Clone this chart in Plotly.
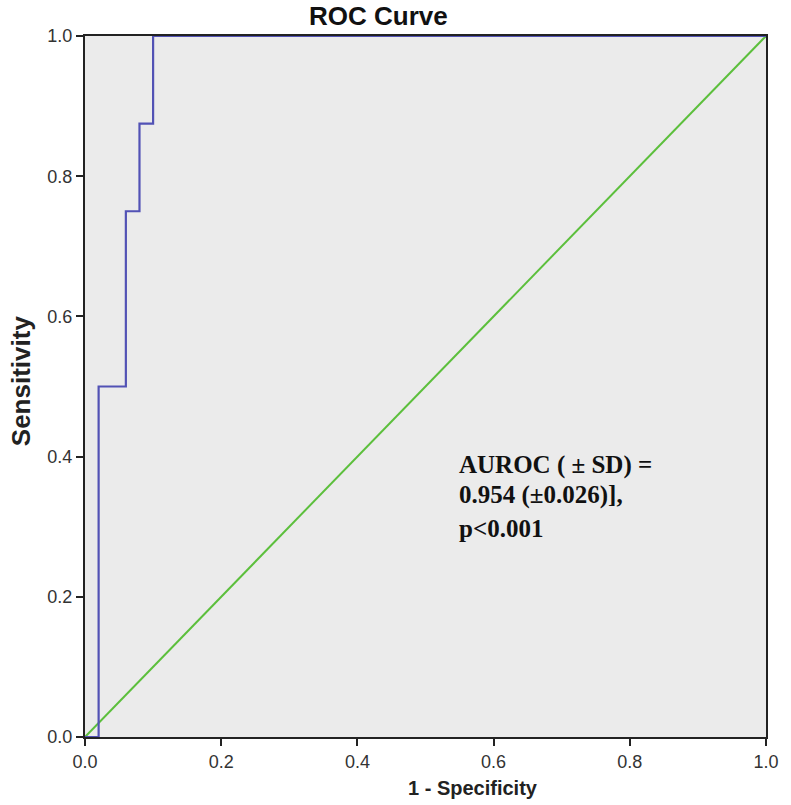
import plotly.graph_objects as go

# ROC step curve (1 - specificity, sensitivity)
fpr = [0.0, 0.02, 0.02, 0.06, 0.06, 0.08, 0.08, 0.10, 0.10, 1.0]
tpr = [0.0, 0.0, 0.50, 0.50, 0.75, 0.75, 0.875, 0.875, 1.0, 1.0]
ref_x = [0.0, 1.0]
ref_y = [0.0, 1.0]
tick_vals = [0.0, 0.2, 0.4, 0.6, 0.8, 1.0]
tick_text = ["0.0", "0.2", "0.4", "0.6", "0.8", "1.0"]
note_lines = ["AUROC ( ± SD) =", "0.954 (±0.026)],", "p<0.001"]
note_y = [0.388, 0.345, 0.298]

fig = go.Figure()
fig.add_trace(go.Scatter(x=ref_x, y=ref_y, mode="lines",
                         line=dict(color="#5cbf3c", width=2), showlegend=False))
fig.add_trace(go.Scatter(x=fpr, y=tpr, mode="lines",
                         line=dict(color="#5252b5", width=2.2), showlegend=False))

axis_common = dict(range=[0, 1], tickvals=tick_vals, ticktext=tick_text,
                   showgrid=False, zeroline=False, showline=True, mirror=True,
                   linecolor="#222222", linewidth=2, ticks="outside", ticklen=7,
                   tickwidth=2, tickcolor="#222222",
                   tickfont=dict(family="Liberation Sans, Arial", size=18, color="#333333"))

fig.update_layout(
    width=791, height=805,
    margin=dict(l=85, r=17, t=36, b=68),
    paper_bgcolor="white", plot_bgcolor="#ebebeb",
    xaxis=axis_common, yaxis=axis_common,
)

ann = [
    dict(text="<b>ROC Curve</b>", x=0.431, y=1.028, xref="paper", yref="paper",
         showarrow=False, xanchor="center", yanchor="middle",
         font=dict(family="Liberation Sans, Arial", size=26, color="#111111")),
    dict(text="<b>1 - Specificity</b>", x=0.57, y=-0.073, xref="paper", yref="paper",
         showarrow=False, xanchor="center", yanchor="middle",
         font=dict(family="Liberation Sans, Arial", size=20, color="#222222")),
    dict(text="<b>Sensitivity</b>", x=-0.094, y=0.509, xref="paper", yref="paper",
         showarrow=False, xanchor="center", yanchor="middle", textangle=-90,
         font=dict(family="Liberation Sans, Arial", size=26, color="#222222")),
]
for t, yy in zip(note_lines, note_y):
    ann.append(dict(text="<b>" + t + "</b>", x=0.546, y=yy, xref="paper", yref="y",
                    showarrow=False, xanchor="left", yanchor="middle",
                    font=dict(family="Liberation Serif, Times New Roman", size=25,
                              color="#111111")))
fig.update_layout(annotations=ann)

fig.write_html("out.html", config={"displayModeBar": False},
               post_script="document.body.style.margin='0';")
